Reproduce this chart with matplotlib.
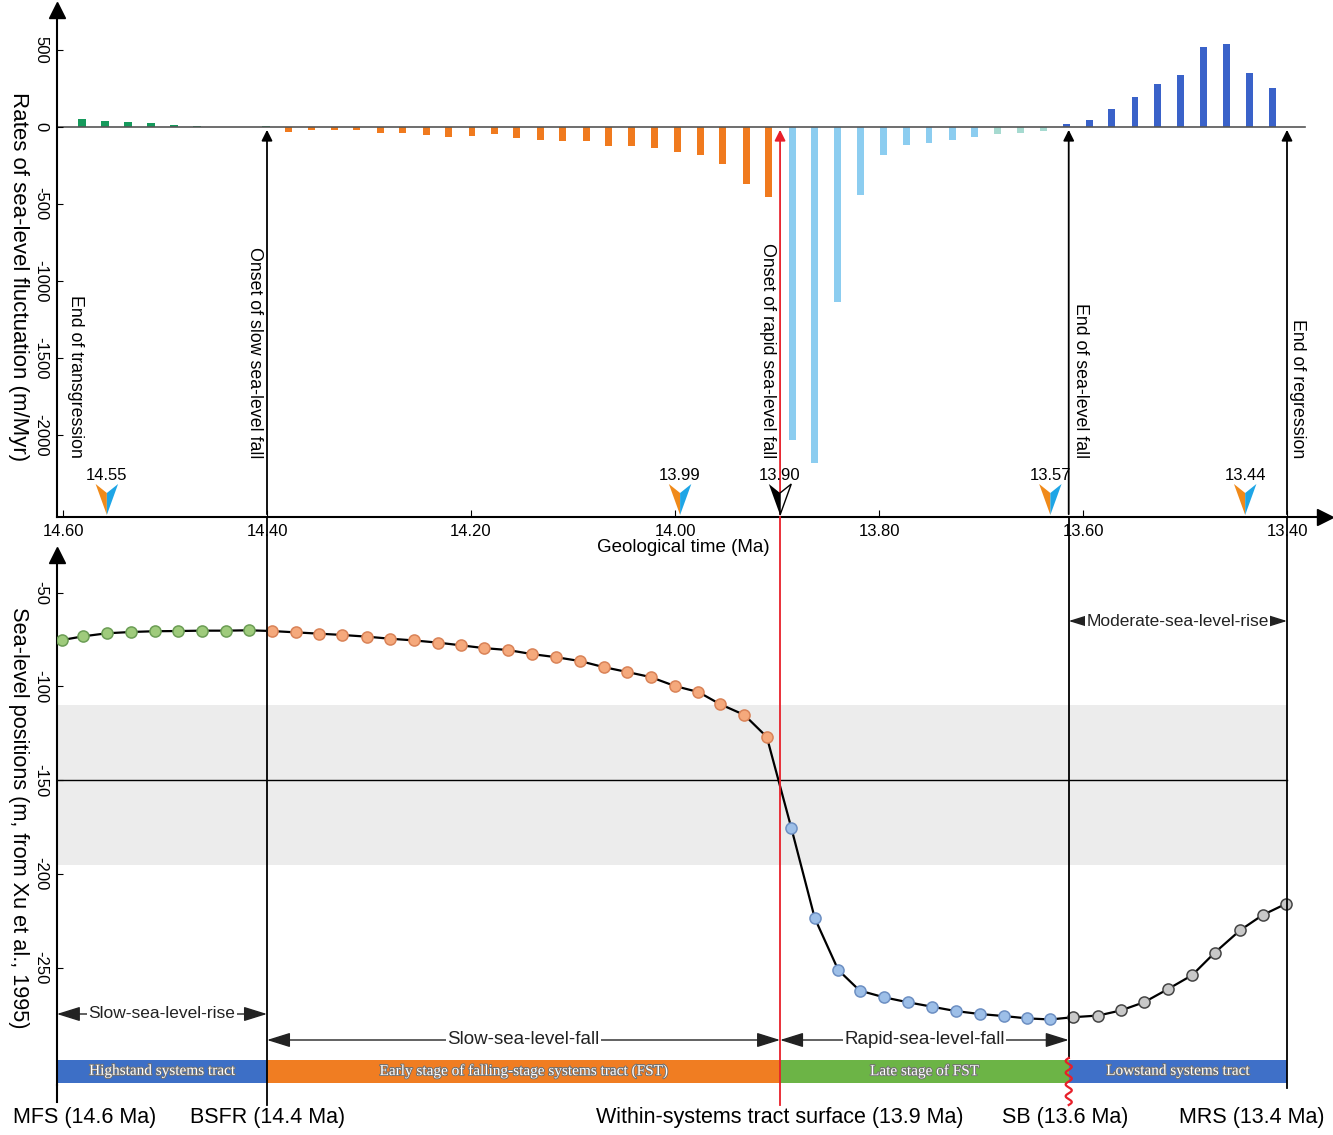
import numpy as np
import matplotlib.pyplot as plt
from matplotlib import patheffects

plt.rcParams['font.family'] = ['Liberation Sans', 'DejaVu Sans']

# ---- top panel: rates of sea-level fluctuation (m/Myr) ----
hst_bar_t = [14.581, 14.559, 14.536, 14.514, 14.491, 14.469, 14.446, 14.424, 14.401]
hst_rate = [50, 39, 32, 26, 15, 6, 2, 3, 8]
efst_bar_t = [14.379, 14.356, 14.334, 14.312, 14.289, 14.267, 14.244, 14.222, 14.199,
              14.177, 14.155, 14.132, 14.110, 14.087, 14.065, 14.043, 14.020, 13.998,
              13.975, 13.953, 13.930, 13.908]
efst_rate = [-35, -17, -22, -17, -39, -39, -50, -65, -61, -45, -74, -82, -91, -91,
             -121, -123, -136, -160, -184, -238, -368, -454]
lfst_bar_t = [13.885, 13.863, 13.841, 13.818, 13.796, 13.773, 13.751, 13.728, 13.706,
              13.684, 13.661, 13.639]
lfst_rate = [-2030, -2180, -1134, -440, -180, -115, -102, -82, -63, -43, -37, -24]
lst_bar_t = [13.616, 13.594, 13.572, 13.549, 13.527, 13.504, 13.482, 13.459, 13.437, 13.414]
lst_rate = [22, 48, 115, 197, 281, 340, 522, 539, 348, 253]

# ---- bottom panel: sea-level positions (m) ----
hst_pt_t = [14.601, 14.580, 14.557, 14.533, 14.510, 14.487, 14.464, 14.440, 14.418]
hst_sl = [-75.3, -73.3, -71.7, -71.0, -70.6, -70.5, -70.3, -70.3, -70.1]
efst_pt_t = [14.395, 14.372, 14.349, 14.326, 14.302, 14.279, 14.256, 14.232, 14.210,
             14.187, 14.164, 14.140, 14.117, 14.093, 14.070, 14.047, 14.024, 14.000,
             13.977, 13.956, 13.932, 13.910]
efst_sl = [-70.5, -71.2, -71.9, -72.6, -73.5, -74.6, -75.5, -76.7, -78.1, -79.6, -80.6,
           -82.8, -84.4, -86.5, -89.7, -92.3, -95.0, -99.8, -103.0, -109.4, -115.2, -126.9]
lfst_pt_t = [13.886, 13.863, 13.840, 13.819, 13.795, 13.772, 13.748, 13.725, 13.701,
             13.677, 13.655, 13.632]
lfst_sl = [-175.3, -223.4, -251.0, -262.0, -265.6, -268.2, -270.6, -272.9, -274.5,
           -275.6, -276.8, -277.4]
lst_pt_t = [13.610, 13.585, 13.563, 13.540, 13.517, 13.493, 13.471, 13.446, 13.424, 13.401]
lst_sl = [-276.2, -275.3, -272.6, -268.2, -261.3, -253.8, -241.9, -229.9, -221.8, -215.8]

# key surfaces (Ma) as placed in the figure
bounds = [14.606, 14.4, 13.897, 13.614, 13.4]
event_text = ["End of transgression", "Onset of slow sea-level fall",
              "Onset of rapid sea-level fall", "End of sea-level fall", "End of regression"]
event_x = [14.588, 14.412, 13.909, 13.602, 13.390]
marker_t = [14.557, 13.995, 13.897, 13.632, 13.441]
marker_lab = ["14.55", "13.99", "13.90", "13.57", "13.44"]
tracts = ["Highstand systems tract", "Early stage of falling-stage systems tract (FST)",
          "Late stage of FST", "Lowstand systems tract"]
tract_col = ["#3d6fc6", "#f07d22", "#6cb446", "#3f70c8"]
surf_lab = ["MFS (14.6 Ma)", "BSFR (14.4 Ma)", "Within-systems tract surface (13.9 Ma)",
            "SB (13.6 Ma)", "MRS (13.4 Ma)"]
surf_x = [14.579, 14.399, 13.897, 13.617, 13.435]


def px2t(px):
    return 14.4 - (px - 267) / 1020.0


W, H = 1333, 1135
fig = plt.figure(figsize=(W / 100, H / 100), dpi=100)
xl = (px2t(57), px2t(1325))

# top axes
ax1 = fig.add_axes([57 / W, 1 - 517 / H, (1325 - 57) / W, (517 - 10) / H])
ax1.set_xlim(*xl)
ax1.set_ylim(-2532, 760)
ax1.bar(hst_bar_t, hst_rate, width=0.0078, color="#169a5c")
ax1.bar(efst_bar_t, efst_rate, width=0.0068, color="#f07a1e")
ax1.bar(lfst_bar_t, lfst_rate, width=0.0068,
        color=["#8ccdf0"] * 9 + ["#a6dad0"] * 3)
ax1.bar(lst_bar_t, lst_rate, width=0.0068, color="#3a62c9")
ax1.plot([px2t(57), px2t(1305)], [0, 0], color="#555555", lw=1.2, zorder=1)
for s in ["top", "right"]:
    ax1.spines[s].set_visible(False)
ax1.spines["left"].set_linewidth(1.5)
ax1.spines["bottom"].set_linewidth(1.5)
ax1.set_xticks([14.6, 14.4, 14.2, 14.0, 13.8, 13.6, 13.4])
ax1.set_xticklabels(["14.60", "14.40", "14.20", "14.00", "13.80", "13.60", "13.40"])
ax1.set_yticks([500, 0, -500, -1000, -1500, -2000])
ax1.set_yticklabels(["500", "0", "-500", "-1000", "-1500", "-2000"])
ax1.tick_params(axis="x", direction="in", length=5, pad=5, labelsize=12)
ax1.tick_params(axis="y", direction="in", length=4, pad=6, labelsize=12, labelrotation=-90)
for lb in ax1.get_yticklabels():
    lb.set_va("center")
ax1.plot(1, 0, ">k", ms=11, transform=ax1.transAxes, clip_on=False)
ax1.plot(0, 1, "^k", ms=11, transform=ax1.transAxes, clip_on=False)
for b in bounds[1:]:
    c = "#e8202a" if b == 13.897 else "k"
    ax1.annotate("", xy=(b, 0), xytext=(b, -2532),
                 arrowprops=dict(arrowstyle="-|>", color=c, lw=1.3, mutation_scale=16))

# bottom axes
ax2 = fig.add_axes([57 / W, 1 - 1085 / H, (1325 - 57) / W, (1085 - 555) / H])
ax2.set_xlim(*xl)
ax2.set_ylim(-312.3, -30)
ax2.fill_between([bounds[0], bounds[4]], -195, -110, color="#ececec", lw=0, zorder=0)
ax2.plot([bounds[0], bounds[4]], [-150, -150], color="k", lw=1, zorder=1)
all_t = hst_pt_t + efst_pt_t + lfst_pt_t + lst_pt_t
all_sl = hst_sl + efst_sl + lfst_sl + lst_sl
ax2.plot(all_t, all_sl, color="k", lw=1.6, zorder=2)
mk = dict(marker="o", ms=8, ls="none", mew=1.1, zorder=3)
ax2.plot(hst_pt_t, hst_sl, mfc="#9fcb7c", mec="#6b9d55", **mk)
ax2.plot(efst_pt_t, efst_sl, mfc="#f5a97c", mec="#d98358", **mk)
ax2.plot(lfst_pt_t, lfst_sl, mfc="#9dbfe8", mec="#6d8fc2", **mk)
ax2.plot(lst_pt_t, lst_sl, mfc="#c9c9c9", mec="#444444", **mk)
for i, (c, lab) in enumerate(zip(tract_col, tracts)):
    ax2.bar(bounds[i], 12, bottom=-311, width=bounds[i + 1] - bounds[i], align="edge",
            color=c, zorder=2)
    ax2.text((bounds[i] + bounds[i + 1]) / 2, -305, lab, ha="center", va="center",
             color="white", fontsize=11, family="Liberation Serif", zorder=4,
             path_effects=[patheffects.withStroke(linewidth=1.3, foreground="#707070")])
for s in ["top", "right", "bottom"]:
    ax2.spines[s].set_visible(False)
ax2.spines["left"].set_linewidth(1.5)
ax2.set_xticks([])
ax2.set_yticks([-50, -100, -150, -200, -250])
ax2.set_yticklabels(["-50", "-100", "-150", "-200", "-250"])
ax2.tick_params(axis="y", direction="in", length=4, pad=6, labelsize=12, labelrotation=-90)
for lb in ax2.get_yticklabels():
    lb.set_va("center")
ax2.plot(0, 1, "^k", ms=11, transform=ax2.transAxes, clip_on=False)

# overlay in figure pixels for annotations that cross panels
ov = fig.add_axes([0, 0, 1, 1], zorder=5)
ov.set_xlim(px2t(0), px2t(W))
ov.set_ylim(H, 0)
ov.axis("off")
ov.patch.set_alpha(0)

ov.plot([bounds[0], bounds[0]], [1085, 1102], color="k", lw=1.5)
ov.plot([bounds[1], bounds[1]], [517, 1105], color="k", lw=1.3)
ov.plot([bounds[2], bounds[2]], [517, 1105], color="#e8202a", lw=1.3)
ov.plot([bounds[3], bounds[3]], [517, 1058], color="k", lw=1.3)
ov.plot([bounds[4], bounds[4]], [517, 1088], color="k", lw=1.3)
yy = np.linspace(1058, 1105, 200)
ov.plot(bounds[3] + 0.003 * np.sin((yy - 1058) / 47 * 8 * np.pi), yy, color="#e8202a", lw=1.6)

for x, s in zip(event_x, event_text):
    ov.text(x, 458, s, rotation=-90, ha="center", va="bottom", fontsize=12.8)

# x axis is reversed: larger time sits on the left of the screen
w = 0.011
for x, lab in zip(marker_t, marker_lab):
    if lab == "13.90":
        ov.fill([x + w, x, x], [484, 493, 515], color="k", lw=0)
        ov.fill([x - w, x, x], [484, 493, 515], fc="white", ec="k", lw=1)
    else:
        ov.fill([x + w, x, x], [484, 493, 515], color="#f08a1a", lw=0)
        ov.fill([x - w, x, x], [484, 493, 515], color="#1ea5e6", lw=0)
    ov.text(x, 475, lab, ha="center", va="center", fontsize=12)

ov.text(px2t(683), 548, "Geological time (Ma)", ha="center", va="center", fontsize=13.5)
ov.text(px2t(18), 277, "Rates of sea-level fluctuation (m/Myr)", rotation=-90,
        ha="center", va="center", fontsize=16)
ov.text(px2t(18), 818, "Sea-level positions (m, from Xu et al., 1995)", rotation=-90,
        ha="center", va="center", fontsize=15.7)

spans = [(bounds[0], bounds[1], 1014, "Slow-sea-level-rise"),
         (bounds[1], bounds[2], 1040, "Slow-sea-level-fall"),
         (bounds[2], bounds[3], 1040, "Rapid-sea-level-fall"),
         (bounds[3], bounds[4], 621, "Moderate-sea-level-rise")]
for x0, x1, y, s in spans:
    ov.annotate("", xy=(x1, y), xytext=(x0, y),
                arrowprops=dict(arrowstyle="<|-|>,head_length=0.8,head_width=0.25",
                                color="#222222", lw=1, mutation_scale=18,
                                shrinkA=0, shrinkB=0))
    fs = 13.5 if "fall" in s else 12.5
    ov.text((x0 + x1) / 2, y, s, ha="center", va="center", fontsize=fs,
            color="#222222", bbox=dict(fc="white", ec="none", pad=1))

for x, s in zip(surf_x, surf_lab):
    ov.text(x, 1118, s, ha="center", va="center", fontsize=15.5)

fig.savefig("out.png", dpi=100)
